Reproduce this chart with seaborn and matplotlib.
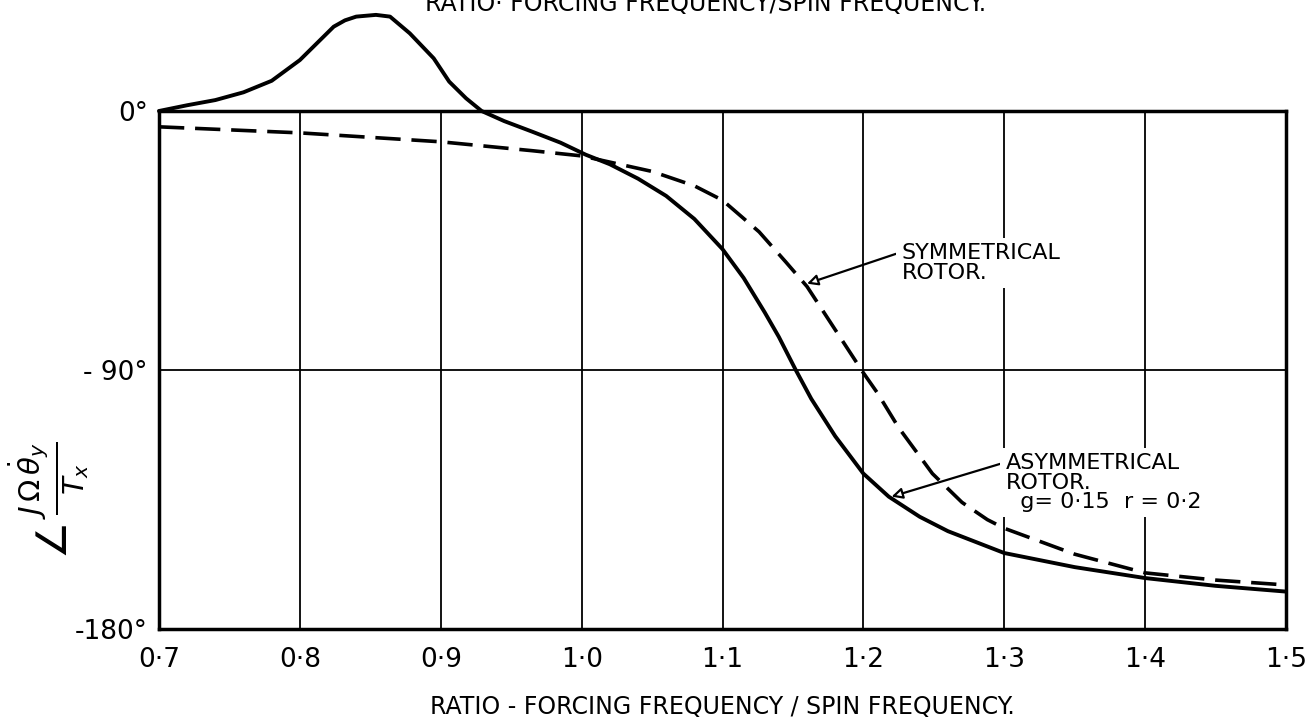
import matplotlib
matplotlib.use("Agg")
import matplotlib.pyplot as plt
import seaborn as sns
import pandas as pd

# ---- data ----
x_ticks = [0.7, 0.8, 0.9, 1.0, 1.1, 1.2, 1.3, 1.4, 1.5]
x_tick_labels = ["0·7", "0·8", "0·9", "1·0", "1·1", "1·2", "1·3", "1·4", "1·5"]
y_ticks = [-180, -90, 0]
y_tick_labels = ["-180°", "- 90°", "0°"]

# asymmetrical rotor (solid)
x_asym = [0.70, 0.72, 0.74, 0.76, 0.78, 0.80, 0.812, 0.824, 0.832, 0.840, 0.854,
          0.864, 0.878, 0.895, 0.906, 0.918, 0.929, 0.945, 0.965, 0.985, 1.003,
          1.02, 1.04, 1.06, 1.08, 1.10, 1.115, 1.13, 1.14, 1.152, 1.163, 1.18,
          1.20, 1.218, 1.24, 1.26, 1.30, 1.35, 1.40, 1.45, 1.50]
y_asym = [0.0, 2.0, 3.8, 6.5, 10.5, 17.7, 23.5, 29.3, 31.5, 32.8, 33.4,
          32.8, 27.0, 18.3, 10.2, 4.4, 0.0, -3.5, -7.2, -11.0, -15.2,
          -18.5, -23.5, -29.5, -37.5, -48.0, -58.0, -70.0, -78.5, -90.0, -100.0, -113.0,
          -126.0, -134.0, -141.0, -146.0, -153.6, -158.5, -162.3, -165.0, -167.0]

# symmetrical rotor (dashed)
x_sym = [0.70, 0.80, 0.90, 0.965, 1.00, 1.05, 1.08, 1.10, 1.126, 1.145, 1.16,
         1.18, 1.20, 1.21, 1.225, 1.249, 1.27, 1.288, 1.30, 1.35, 1.40, 1.45, 1.50]
y_sym = [-5.5, -7.6, -10.7, -13.8, -15.6, -21.0, -26.0, -31.0, -42.0, -52.5, -61.0,
         -76.0, -91.0, -98.0, -110.0, -126.0, -136.0, -142.0, -145.0, -154.0, -160.5, -163.0, -164.7]

x_title = "RATIO - FORCING FREQUENCY / SPIN FREQUENCY."
top_title = "RATIO· FORCING FREQUENCY/SPIN FREQUENCY."
sym_label = "SYMMETRICAL\nROTOR."
asym_label = "ASYMMETRICAL\nROTOR.\n  g= 0·15  r = 0·2"
y_label = r"$\angle\,\frac{J\,\Omega\,\dot{\theta}_y}{T_x}$"

# ---- plotting ----
sns.set_style("white")
plt.rcParams["font.family"] = ["DejaVu Sans"]
plt.rcParams["text.color"] = "black"
plt.rcParams["xtick.color"] = "black"
plt.rcParams["ytick.color"] = "black"
plt.rcParams["axes.labelcolor"] = "black"

W, H = 1313, 728
fig = plt.figure(figsize=(W / 100, H / 100), dpi=100)
ax = fig.add_axes([159 / W, 1 - 629 / H, 1127 / W, 518 / H])

df_asym = pd.DataFrame({"x": x_asym, "y": y_asym})
df_sym = pd.DataFrame({"x": x_sym, "y": y_sym})

sns.lineplot(data=df_asym, x="x", y="y", ax=ax, color="black", lw=2.8,
             clip_on=False, sort=False, zorder=5)
sns.lineplot(data=df_sym, x="x", y="y", ax=ax, color="black", lw=2.6,
             linestyle=(0, (7, 3)), clip_on=False, sort=False, zorder=5)

ax.set_xlim(0.7, 1.5)
ax.set_ylim(-180, 0)
ax.set_xticks(x_ticks)
ax.set_xticklabels(x_tick_labels, fontsize=19, color="black")
ax.set_yticks(y_ticks)
ax.set_yticklabels(y_tick_labels, fontsize=19, color="black")
ax.tick_params(axis="x", length=0, pad=13)
ax.tick_params(axis="y", length=0, pad=8)
ax.grid(True, color="black", lw=1.3)
for s in ax.spines.values():
    s.set_visible(True)
    s.set_color("black")
    s.set_linewidth(2.5)
ax.set_xlabel("")
ax.set_ylabel("")

# annotations (text boxes mask the grid lines as in the reference)
box = dict(boxstyle="square,pad=0.25", fc="white", ec="none")
ax.annotate(sym_label, xy=(1.16, -60), xytext=(1.227, -46),
            fontsize=16, ha="left", va="top", linespacing=0.95, bbox=box,
            color="black",
            arrowprops=dict(arrowstyle="-|>", lw=1.6, color="black", fc="white",
                            mutation_scale=16, shrinkA=0, shrinkB=0,
                            relpos=(0, 0.78)))
ax.annotate(asym_label, xy=(1.220, -134), xytext=(1.301, -119),
            fontsize=16, ha="left", va="top", linespacing=0.95, bbox=box,
            color="black",
            arrowprops=dict(arrowstyle="-|>", lw=1.6, color="black", fc="white",
                            mutation_scale=16, shrinkA=0, shrinkB=0,
                            relpos=(0, 0.85)))

fig.text(722 / W, 1 - 707 / H, x_title, fontsize=17, ha="center", va="center", color="black")
fig.text(425 / W, 1 - 4 / H, top_title, fontsize=17, ha="left", va="center", color="black")
fig.text(48 / W, 1 - 500 / H, y_label, fontsize=30, rotation=90, ha="center", va="center",
         color="black")

fig.savefig("out.png", dpi=100)
